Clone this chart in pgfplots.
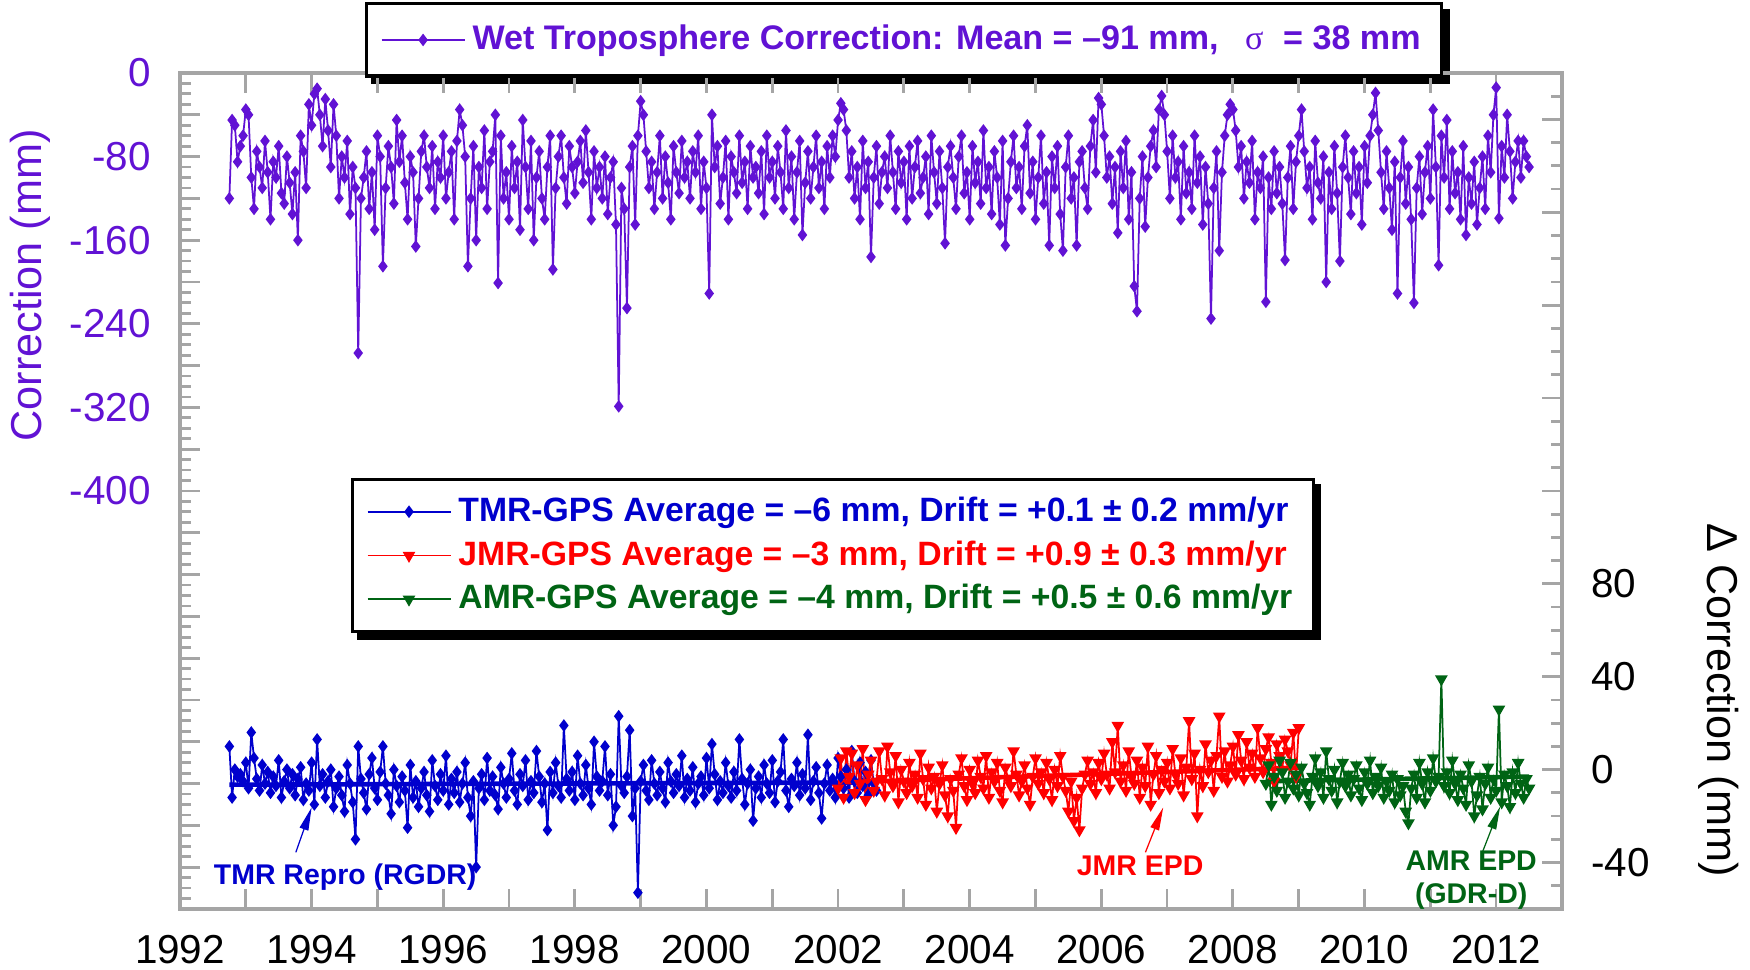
\documentclass[border=0pt]{standalone}
\usepackage{pgfplots}
\pgfplotsset{compat=1.18}
\usepackage{pgfplotstable}
\usepackage{fontspec}
\setmainfont{Liberation Sans}
\newfontfamily\sigmafont{Liberation Serif}
\usetikzlibrary{arrows.meta,backgrounds}
\definecolor{wetpurple}{RGB}{97,18,212}
\definecolor{tmrblue}{RGB}{0,0,205}
\definecolor{jmrred}{RGB}{255,0,0}
\definecolor{amrgreen}{RGB}{0,100,20}
\definecolor{framegray}{RGB}{165,165,165}

% Wet troposphere correction (mm), 24 samples per year from 1992.75
\pgfplotstableread[header=false,row sep=\\]{
-120\\-45\\-50\\-85\\-70\\-60\\-35\\-40\\-100\\-130\\-75\\-90\\-110\\-65\\-95\\-140\\-85\\-100\\-70\\-115\\-125\\-80\\-105\\-135\\
-95\\-160\\-60\\-75\\-110\\-30\\-50\\-20\\-15\\-40\\-70\\-25\\-55\\-90\\-30\\-60\\-120\\-80\\-100\\-65\\-135\\-90\\-110\\-268\\
-120\\-100\\-75\\-130\\-95\\-150\\-60\\-80\\-185\\-110\\-70\\-90\\-125\\-45\\-85\\-60\\-105\\-140\\-80\\-95\\-166\\-120\\-75\\-60\\
-90\\-110\\-70\\-130\\-85\\-100\\-60\\-120\\-95\\-75\\-140\\-65\\-35\\-50\\-80\\-185\\-120\\-70\\-160\\-90\\-110\\-55\\-130\\-85\\
-75\\-40\\-201\\-60\\-120\\-95\\-140\\-70\\-110\\-85\\-150\\-45\\-90\\-130\\-65\\-160\\-100\\-75\\-120\\-140\\-90\\-60\\-188\\-110\\
-80\\-60\\-100\\-125\\-70\\-90\\-115\\-85\\-65\\-105\\-55\\-95\\-140\\-75\\-110\\-90\\-120\\-80\\-135\\-100\\-85\\-145\\-319\\-110\\
-130\\-225\\-90\\-70\\-145\\-60\\-27\\-40\\-75\\-110\\-85\\-130\\-95\\-60\\-120\\-80\\-105\\-140\\-70\\-95\\-115\\-65\\-100\\-85\\
-120\\-75\\-95\\-60\\-130\\-85\\-110\\-211\\-40\\-90\\-70\\-125\\-100\\-65\\-140\\-80\\-95\\-115\\-60\\-105\\-85\\-130\\-70\\-100\\
-90\\-115\\-75\\-135\\-60\\-100\\-85\\-120\\-70\\-95\\-130\\-55\\-110\\-80\\-140\\-95\\-65\\-155\\-105\\-75\\-120\\-90\\-60\\-110\\
-85\\-130\\-70\\-100\\-60\\-80\\-45\\-29\\-35\\-55\\-100\\-75\\-120\\-90\\-140\\-65\\-110\\-85\\-176\\-100\\-70\\-125\\-95\\-80\\
-110\\-60\\-95\\-130\\-75\\-105\\-85\\-140\\-70\\-120\\-90\\-65\\-115\\-100\\-80\\-135\\-60\\-95\\-125\\-75\\-110\\-163\\-90\\-70\\
-100\\-130\\-80\\-60\\-115\\-95\\-140\\-70\\-105\\-85\\-125\\-55\\-110\\-90\\-135\\-75\\-100\\-145\\-65\\-165\\-120\\-85\\-60\\-110\\
-90\\-130\\-70\\-50\\-115\\-85\\-140\\-100\\-60\\-125\\-95\\-165\\-80\\-110\\-70\\-135\\-170\\-90\\-60\\-120\\-100\\-165\\-85\\-75\\
-110\\-130\\-70\\-45\\-95\\-24\\-30\\-60\\-100\\-80\\-125\\-90\\-153\\-75\\-110\\-65\\-140\\-95\\-204\\-228\\-120\\-80\\-147\\-100\\
-70\\-55\\-90\\-35\\-22\\-40\\-75\\-120\\-60\\-100\\-85\\-140\\-70\\-115\\-95\\-130\\-60\\-105\\-80\\-145\\-90\\-125\\-235\\-110\\
-75\\-170\\-95\\-60\\-40\\-30\\-35\\-55\\-90\\-70\\-120\\-85\\-105\\-65\\-140\\-95\\-110\\-80\\-219\\-100\\-130\\-75\\-115\\-90\\
-125\\-179\\-100\\-70\\-130\\-85\\-60\\-35\\-75\\-110\\-90\\-140\\-65\\-105\\-120\\-80\\-200\\-95\\-130\\-70\\-115\\-180\\-90\\-60\\
-100\\-135\\-75\\-115\\-90\\-145\\-70\\-105\\-60\\-40\\-19\\-55\\-95\\-130\\-75\\-110\\-150\\-85\\-211\\-100\\-65\\-125\\-90\\-140\\
-220\\-110\\-80\\-135\\-95\\-70\\-120\\-35\\-90\\-184\\-60\\-100\\-45\\-130\\-75\\-115\\-95\\-140\\-70\\-155\\-100\\-125\\-85\\-145\\
-110\\-80\\-130\\-60\\-95\\-40\\-14\\-139\\-70\\-100\\-40\\-75\\-120\\-85\\-65\\-100\\-65\\-80\\-90\\
}\wetdata

% TMR-GPS (mm), 24 per year from 1992.75
\pgfplotstableread[header=false,row sep=\\]{
10\\-12\\0\\-3\\-2\\-5\\3\\-8\\16\\5\\-4\\-9\\2\\-6\\-1\\-10\\-3\\-7\\4\\-12\\-5\\0\\-8\\-2\\
-11\\-4\\1\\-13\\-6\\-9\\3\\-15\\13\\-7\\-2\\-12\\-5\\0\\-16\\-8\\-3\\-11\\-18\\2\\-6\\-14\\-30\\10\\
-4\\-10\\-17\\-2\\5\\-8\\-13\\-1\\10\\-6\\-11\\-19\\0\\-7\\-14\\-3\\-9\\-25\\2\\-12\\-5\\-16\\-8\\-1\\
-11\\-18\\4\\-7\\-13\\-2\\-9\\6\\-15\\-4\\-10\\-1\\-14\\-6\\3\\-12\\-20\\-5\\-42\\-8\\-2\\-13\\5\\-9\\
-3\\-11\\-17\\1\\-6\\-12\\-4\\7\\-9\\-15\\-2\\-7\\4\\-13\\-5\\-10\\8\\-3\\-14\\-6\\-26\\-1\\-10\\3\\
-7\\-12\\19\\-4\\-9\\-1\\-13\\6\\-6\\-11\\2\\-8\\-15\\12\\-3\\-9\\-5\\10\\-11\\-2\\-24\\-16\\23\\-7\\
-10\\-3\\17\\-20\\-8\\-53\\-5\\2\\-9\\-13\\4\\-6\\-11\\-1\\-8\\-14\\3\\-5\\-10\\-2\\-7\\6\\-12\\-4\\
-9\\1\\-14\\-6\\-3\\-11\\5\\-8\\11\\-2\\-13\\-5\\-10\\3\\-7\\-12\\-1\\-9\\13\\-4\\-15\\-6\\0\\-22\\
-8\\-3\\-12\\2\\-6\\-10\\4\\-14\\-5\\-1\\13\\-9\\-16\\-4\\-7\\3\\-11\\-2\\-8\\15\\-13\\-5\\1\\-10\\
-21\\-6\\2\\-9\\-4\\-12\\5\\-3\\-8\\0\\-12\\8\\-5\\-10\\3\\-7\\-1\\-11\\4\\-6\\-9\\
}\tmrdata

% JMR-GPS (mm), 24 per year from 2002.0
\pgfplotstableread[header=false,row sep=\\]{
-8\\5\\-12\\8\\-3\\7\\-10\\2\\-6\\9\\-13\\-2\\4\\-9\\-5\\8\\-4\\-11\\10\\-1\\-7\\6\\-14\\0\\
-5\\-10\\3\\-7\\-2\\-12\\7\\-4\\-15\\1\\-8\\-3\\-18\\-6\\2\\-11\\-20\\-4\\-9\\-25\\-2\\5\\-7\\-13\\
0\\-6\\-10\\4\\-3\\-8\\6\\-12\\-1\\-5\\3\\-9\\-14\\1\\-4\\-7\\8\\-2\\-11\\-5\\2\\-8\\-15\\-3\\
5\\-6\\-1\\-10\\3\\-4\\-13\\0\\-7\\6\\-3\\-9\\-18\\-5\\-22\\-12\\-26\\-8\\-2\\4\\-6\\-1\\-10\\3\\
-4\\7\\-2\\-8\\12\\-1\\19\\-5\\2\\-9\\8\\-3\\-6\\4\\-12\\1\\-7\\10\\-15\\-2\\6\\-10\\0\\-5\\
3\\-8\\9\\-2\\-6\\5\\-11\\1\\21\\-4\\7\\-20\\0\\-7\\11\\-1\\4\\-9\\6\\23\\-3\\8\\-5\\2\\
10\\-2\\15\\4\\-4\\12\\1\\7\\-3\\18\\5\\-1\\9\\14\\3\\-5\\11\\6\\0\\13\\8\\2\\16\\-3\\18\\
}\jmrdata

% AMR-GPS (mm), 24 per year from 2008.5
\pgfplotstableread[header=false,row sep=\\]{
-6\\2\\-15\\-3\\-9\\4\\-1\\-12\\-5\\3\\-8\\-2\\-11\\1\\-6\\-10\\-15\\-3\\5\\-7\\-1\\-12\\8\\-4\\
-9\\0\\-14\\-5\\3\\-7\\-2\\-11\\-4\\2\\-8\\-13\\-1\\-6\\4\\-10\\-3\\-7\\1\\-12\\-5\\-9\\-2\\-14\\
-4\\-11\\-7\\-18\\-23\\-8\\-2\\-12\\3\\-6\\-14\\-1\\-9\\5\\-5\\-3\\39\\-7\\-1\\-10\\4\\-6\\-13\\-2\\
-8\\-15\\2\\-5\\-20\\-11\\-3\\-17\\-6\\1\\-12\\-4\\-9\\26\\-14\\-2\\-7\\-16\\-1\\-10\\3\\-6\\-12\\-4\\-8\\
}\amrdata

\pgfplotsset{
  basestyle/.style={
    scale only axis, width=13.82cm, height=8.36cm,
    xmin=1992, xmax=2013,
    axis line style={framegray, line width=0.9pt},
    tick style={framegray, line width=0.8pt},
    tick align=inside,
    major tick length=0.2cm, minor tick length=0.11cm,
    /pgf/number format/assume math mode=true,
    tick label style={font=\fontsize{11.5}{13}\selectfont},
    legend cell align=left,
    legend image code/.code={\draw[mark repeat=2,mark phase=2,##1] plot coordinates {(0cm,0cm) (0.415cm,0cm) (0.83cm,0cm)};},
  },
}

\begin{document}
\begin{tikzpicture}
\begin{axis}[basestyle, name=ax,
  ymin=-800, ymax=0,
  xtick={1992,...,2013},
  xticklabels={1992,,1994,,1996,,1998,,2000,,2002,,2004,,2006,,2008,,2010,,2012,},
  minor x tick num=1,
  xtick pos=both,
  xticklabel style={yshift=-0.14cm},
  ytick={-800,-760,...,0},
  yticklabels={{},{},{},{},{},{},{},{},{},{},-400,{},-320,{},-240,{},-160,{},-80,{},0},
  minor ytick={-800,-790,...,0},
  ytick pos=left,
  yticklabel style={text=wetpurple, xshift=-0.17cm},
  ylabel={Correction (mm)},
  ylabel style={at={(axis description cs:-0.1085,0.746)}, anchor=center, text=wetpurple, font=\fontsize{12.3}{14}\selectfont},
  legend style={name=legA, at={(0.524,1.0395)}, anchor=center, draw=black, line width=0.9pt, fill=white,
    font=\fontsize{9.7}{11}\selectfont\bfseries,
    inner xsep=4pt, inner ysep=4pt},
]
\addplot[wetpurple, line width=0.5pt, mark=diamond*, mark size=1.4pt, mark options={solid}]
  table[x expr=1992.75+\coordindex/24, y index=0] {\wetdata};
\addlegendentry{\textcolor{wetpurple}{Wet Troposphere Correction: Mean = –91 mm,\hspace{0.5em} {\sigmafont\mdseries σ}\hspace{0.3em} = 38 mm}}
\end{axis}

\begin{axis}[basestyle, at={(ax.south west)}, anchor=south west,
  ymin=-60, ymax=300,
  axis x line=none, axis y line*=right,
  ytick={-40,0,...,280},
  yticklabels={-40,0,40,80,{},{},{},{},{}},
  minor ytick={-60,-50,...,300},
  yticklabel style={xshift=0.17cm},
  ylabel={Δ Correction (mm)},
  ylabel style={at={(axis description cs:1.1136,0.25)}, anchor=center, rotate=180, font=\fontsize{12.3}{14}\selectfont},
  legend style={name=legB, at={(0.4725,0.4228)}, anchor=center, draw=black, line width=0.9pt, fill=white,
    font=\fontsize{9.6}{11}\selectfont\bfseries,
    inner xsep=4pt, inner ysep=3pt, row sep=0pt},
]
\addplot[tmrblue, line width=0.5pt, mark=diamond*, mark size=1.4pt, mark options={solid}]
  table[x expr=1992.75+\coordindex/24, y index=0] {\tmrdata};
\addlegendentry{\textcolor{tmrblue}{TMR-GPS Average = –6 mm, Drift = +0.1 ± 0.2 mm/yr}}
\addplot[jmrred, line width=0.5pt, mark=triangle*, mark size=1.6pt, mark options={solid, rotate=180}]
  table[x expr=2002.0+\coordindex/24, y index=0] {\jmrdata};
\addlegendentry{\textcolor{jmrred}{JMR-GPS Average = –3 mm, Drift = +0.9 ± 0.3 mm/yr}}
\addplot[amrgreen, line width=0.5pt, mark=triangle*, mark size=1.6pt, mark options={solid, rotate=180}]
  table[x expr=2008.5+\coordindex/24, y index=0] {\amrdata};
\addlegendentry{\textcolor{amrgreen}{AMR-GPS Average = –4 mm, Drift = +0.5 ± 0.6 mm/yr}}
\addplot[tmrblue, line width=1.3pt, no marks, forget plot] coordinates {(1992.75,-6.5) (2002.6,-5.5)};
\addplot[jmrred, line width=1.3pt, no marks, forget plot] coordinates {(2002.0,-5.5) (2009.0,0.8)};
\addplot[amrgreen, line width=1.3pt, no marks, forget plot] coordinates {(2008.5,-5) (2012.5,-3)};

\draw[tmrblue, line width=0.35pt, -{Triangle[length=2.3mm,width=0.9mm]}] (axis cs:1993.76,-35.6) -- (axis cs:1994.0,-16.3);
\node[tmrblue, font=\fontsize{8.1}{9}\selectfont\bfseries] at (axis cs:1994.51,-46.3) {TMR Repro (RGDR)};
\draw[jmrred, line width=0.35pt, -{Triangle[length=2.3mm,width=0.9mm]}] (axis cs:2006.67,-35.6) -- (axis cs:2006.94,-16.3);
\node[jmrred, font=\fontsize{8.1}{9}\selectfont\bfseries] at (axis cs:2006.59,-41.6) {JMR EPD};
\draw[amrgreen, line width=0.35pt, -{Triangle[length=2.3mm,width=0.9mm]}] (axis cs:2011.79,-35.6) -- (axis cs:2012.06,-15.9);
\node[amrgreen, font=\fontsize{8.1}{9.5}\selectfont\bfseries, align=center] at (axis cs:2011.62,-47.6) {AMR EPD\\(GDR-D)};
\end{axis}

\begin{pgfonlayer}{background}
\fill[black] ([shift={(1.8pt,-1.8pt)}]legA.south west) rectangle ([shift={(1.8pt,-1.8pt)}]legA.north east);
\fill[black] ([shift={(1.8pt,-1.8pt)}]legB.south west) rectangle ([shift={(1.8pt,-1.8pt)}]legB.north east);
\end{pgfonlayer}

\pgfresetboundingbox
\path ([shift={(-1.80cm,-0.61cm)}]ax.south west) rectangle ([shift={(1.88cm,0.73cm)}]ax.north east);
\end{tikzpicture}
\end{document}
